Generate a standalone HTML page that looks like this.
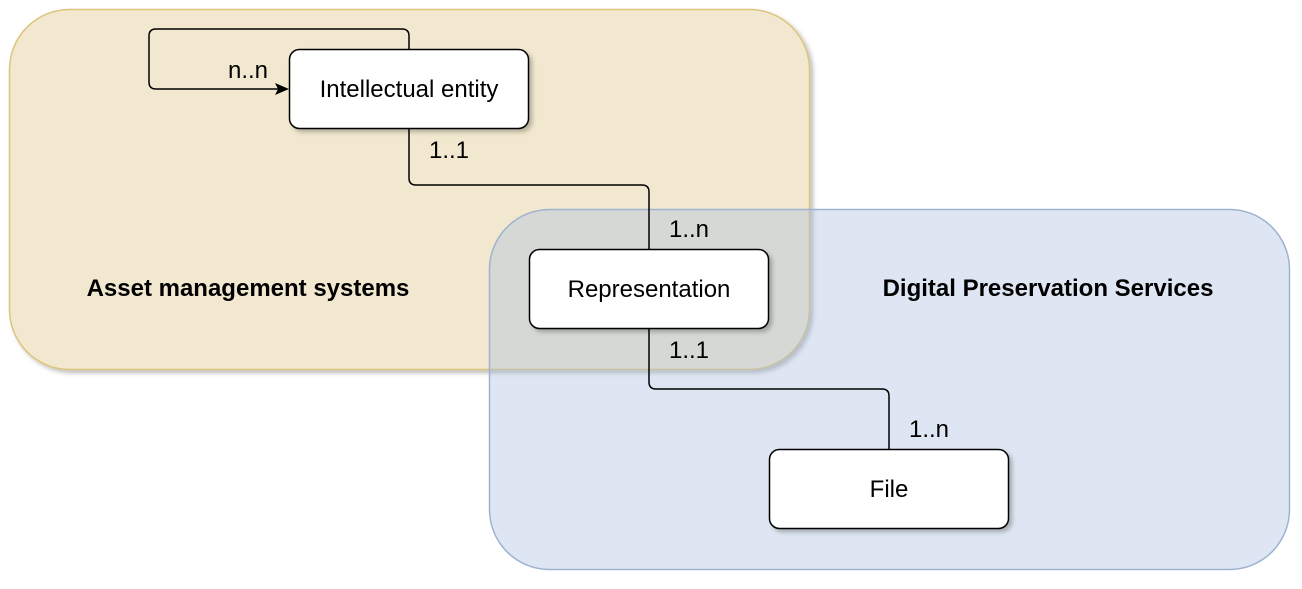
<!DOCTYPE html>
<html><head><style>body{margin:0;background:#fff}</style></head><body>
<svg width="1302" height="584" xmlns="http://www.w3.org/2000/svg" font-family="Liberation Sans, Arial, sans-serif">
<defs>
<filter id="sh" x="-20%" y="-20%" width="140%" height="140%"><feDropShadow dx="3" dy="3" stdDeviation="2" flood-color="#000" flood-opacity="0.25"/></filter>
</defs>
<rect x="9.5" y="9.5" width="800" height="360" rx="60" fill="#f2e8cf" stroke="#dcc47c" stroke-width="1.5" filter="url(#sh)"/>
<rect x="489.5" y="209.5" width="800" height="360" rx="60" fill="rgba(165,188,222,0.38)" stroke="#9fb3d1" stroke-width="1.5"/>
<text x="248" y="296" font-size="24" font-weight="bold" text-anchor="middle" fill="#000">Asset management systems</text>
<text x="1048" y="296" font-size="24" font-weight="bold" text-anchor="middle" fill="#000">Digital Preservation Services</text>
<g fill="none" stroke="#000" stroke-width="1.5">
<path d="M409 49 V36 Q409 29 402 29 H156 Q149 29 149 36 V82 Q149 89 156 89 H280"/>
<path d="M409 129 V178 Q409 185 416 185 H642 Q649 185 649 192 V249"/>
<path d="M649 329 V382 Q649 389 656 389 H882 Q889 389 889 396 V449"/>
</g>
<path d="M289 89 L275 83 L278 89 L275 95 Z" fill="#000"/>
<g font-size="24" fill="#000">
<text x="228" y="78">n..n</text>
<text x="429" y="158">1..1</text>
<text x="669" y="237">1..n</text>
<text x="669" y="358">1..1</text>
<text x="909" y="437">1..n</text>
</g>
<g fill="#fff" stroke="#000" stroke-width="1.5" filter="url(#sh)">
<rect x="289.5" y="49.5" width="239" height="79" rx="10"/>
<rect x="529.5" y="249.5" width="239" height="79" rx="10"/>
<rect x="769.5" y="449.5" width="239" height="79" rx="10"/>
</g>
<g font-size="24" text-anchor="middle" fill="#000">
<text x="409" y="97">Intellectual entity</text>
<text x="649" y="297">Representation</text>
<text x="889" y="497">File</text>
</g>
</svg>
</body></html>
